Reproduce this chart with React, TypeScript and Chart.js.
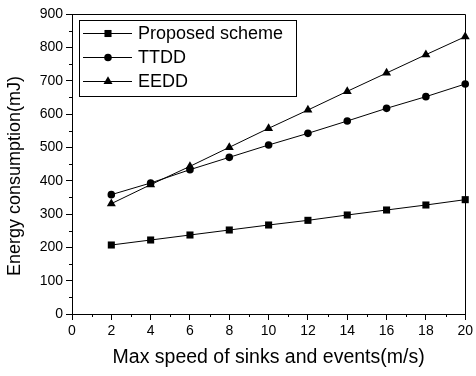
import React, { useEffect, useRef } from "react";
import { Chart, registerables } from "chart.js";

Chart.register(...registerables);

const speeds = [2, 4, 6, 8, 10, 12, 14, 16, 18, 20];
const proposed = [207, 222, 237, 252, 267, 281, 297, 312, 327, 343];
const ttdd = [358, 393, 433, 470, 507, 542, 579, 617, 652, 690];
const eedd = [331, 388, 443, 500, 557, 612, 668, 723, 778, 832];
const seriesNames = ["Proposed scheme", "TTDD", "EEDD"];
const xTitle = "Max speed of sinks and events(m/s)";
const yTitle = "Energy consumption(mJ)";

const FONT = "'Liberation Sans', Arial, sans-serif";

const frameAndMinor = {
  id: "frameAndMinor",
  afterDraw(chart: any) {
    const { ctx, chartArea } = chart;
    const xs = chart.scales.x;
    const ys = chart.scales.y;
    ctx.save();
    ctx.strokeStyle = "#000";
    ctx.lineWidth = 1;
    ctx.beginPath();
    ctx.moveTo(Math.round(chartArea.left) + 0.5, Math.round(chartArea.top) + 0.5);
    ctx.lineTo(Math.round(chartArea.right) + 0.5, Math.round(chartArea.top) + 0.5);
    ctx.lineTo(Math.round(chartArea.right) + 0.5, Math.round(chartArea.bottom) + 0.5);
    ctx.stroke();
    // minor ticks
    ctx.beginPath();
    for (let v = 1; v < 20; v += 2) {
      const px = Math.round(xs.getPixelForValue(v)) + 0.5;
      ctx.moveTo(px, chartArea.bottom);
      ctx.lineTo(px, chartArea.bottom + 3);
    }
    for (let v = 50; v < 900; v += 100) {
      const py = Math.round(ys.getPixelForValue(v)) + 0.5;
      ctx.moveTo(chartArea.left, py);
      ctx.lineTo(chartArea.left - 3, py);
    }
    ctx.stroke();
    // y title
    ctx.save();
    ctx.translate(15, 176);
    ctx.rotate(-Math.PI / 2);
    ctx.font = `18px ${FONT}`;
    ctx.fillStyle = "#000";
    ctx.textAlign = "center";
    ctx.textBaseline = "middle";
    ctx.fillText(yTitle, 0, 0);
    ctx.restore();
    // legend
    const bx = 79, by = 20, bw = 217, bh = 76;
    ctx.strokeRect(bx + 0.5, by + 0.5, bw, bh);
    const rows = [33, 57, 81];
    chart.data.datasets.forEach((ds: any, i: number) => {
      const y = rows[i] + 0.5;
      ctx.beginPath();
      ctx.moveTo(83, y);
      ctx.lineTo(132, y);
      ctx.strokeStyle = "#000";
      ctx.lineWidth = 1;
      ctx.stroke();
      ctx.fillStyle = "#000";
      const s = ds.pointStyle;
      const r = ds.pointRadius;
      ctx.beginPath();
      if (s === "rect") {
        const h = Math.SQRT1_2 * r;
        ctx.rect(108 - h, y - h, 2 * h, 2 * h);
      } else if (s === "circle") {
        ctx.arc(108, y, r, 0, Math.PI * 2);
      } else {
        const side = (3 * r) / Math.sqrt(3);
        const height = (side * Math.sqrt(3)) / 2;
        ctx.moveTo(108 - side / 2, y + height / 3);
        ctx.lineTo(108 + side / 2, y + height / 3);
        ctx.lineTo(108, y - (2 * height) / 3);
        ctx.closePath();
      }
      ctx.fill();
      ctx.font = `18px ${FONT}`;
      ctx.textBaseline = "middle";
      ctx.textAlign = "left";
      ctx.fillText(ds.label, 138, y + 1);
    });
    ctx.restore();
  },
};

export default function App() {
  const ref = useRef<HTMLCanvasElement>(null);
  useEffect(() => {
    document.body.style.margin = "0";
    const mk = (label: string, values: number[], style: string, radius: number) => ({
      label,
      data: speeds.map((x, i) => ({ x, y: values[i] })),
      borderColor: "#000",
      backgroundColor: "#000",
      borderWidth: 1,
      pointStyle: style,
      pointRadius: radius,
      pointBorderWidth: 0,
      pointBackgroundColor: "#000",
      clip: false as any,
    });
    const chart = new Chart(ref.current!, {
      type: "line",
      data: {
        datasets: [
          mk(seriesNames[0], proposed, "rect", 5),
          mk(seriesNames[1], ttdd, "circle", 3.8),
          mk(seriesNames[2], eedd, "triangle", 5.2),
        ],
      },
      plugins: [frameAndMinor],
      options: {
        animation: false,
        responsive: false,
        layout: { padding: { top: 14, right: 9, left: 0, bottom: 0 } },
        plugins: { legend: { display: false }, tooltip: { enabled: false } },
        scales: {
          x: {
            type: "linear",
            min: 0,
            max: 20,
            afterFit: (s: any) => { s.height = 62; },
            ticks: { stepSize: 2, color: "#000", font: { family: FONT, size: 14 }, padding: 3, maxRotation: 0 },
            grid: { drawOnChartArea: false, tickLength: 6, color: "#000", tickColor: "#000" },
            border: { color: "#000", width: 1 },
            title: { display: true, text: xTitle, color: "#000", font: { family: FONT, size: 19.5 }, padding: { top: 0, bottom: 7 } },
          },
          y: {
            min: 0,
            max: 900,
            afterFit: (s: any) => { s.width = 72; },
            ticks: { stepSize: 100, color: "#000", font: { family: FONT, size: 14 }, padding: 3 },
            grid: { drawOnChartArea: false, tickLength: 6, color: "#000", tickColor: "#000" },
            border: { color: "#000", width: 1 },
            title: { display: false },
          },
        },
      },
    });
    return () => chart.destroy();
  }, []);
  return <canvas ref={ref} width={476} height={376} style={{ display: "block" }} />;
}
